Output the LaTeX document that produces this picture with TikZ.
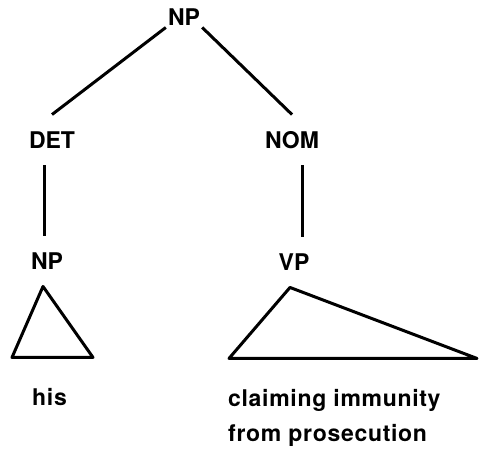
\documentclass[tikz,border=0pt]{standalone}
\usepackage{fontspec}
\setmainfont{TeX Gyre Heros}
\usepackage{tikz}
\usetikzlibrary{calc}
\tikzset{every node/.append style={align=left}}
\tikzset{
  cat/.style={font=\fontsize{23}{35}\selectfont\bfseries, inner xsep=2pt, inner ysep=17pt, text height=16.5pt, text depth=0pt},
  leaf/.style={font=\fontsize{23}{35}\selectfont\bfseries\addfontfeatures{LetterSpace=3}, inner sep=0pt, anchor=base west},
  branch/.style={line width=3pt, line join=round}
}

\begin{document}
\begin{tikzpicture}[x=1pt, y=1pt]
  \useasboundingbox (0,0) rectangle (481,450);
  \node[cat, inner ysep=2pt] (top) at (184,433) {NP};
  \node[cat] (det) at (52,310) {DET};
  \node[cat] (nom) at (292,310) {NOM};
  \node[cat] (np) at (47,189) {NP};
  \node[cat] (vp) at (294,188) {VP};
  \node[leaf] (his) at (32,45) {his};
  \node[leaf] (claim) at (228,9) {claiming immunity\\from prosecution};
  % feet of the unary branches and tips of the triangles
  \coordinate (detfoot) at ([xshift=-8pt]det.south);
  \coordinate (nomfoot) at ([xshift=10pt]nom.south);
  \coordinate (nptip) at ([xshift=-4pt]np.south);
  \coordinate (vptip) at ([xshift=-4pt]vp.south);
  \draw[branch] (top.south west) -- (det.north);
  \draw[branch] (top.south east) -- (nom.north);
  \draw[branch] (detfoot) -- (detfoot |- np.north);
  \draw[branch] (nomfoot) -- (nomfoot |- vp.north);
  \draw[branch] (nptip) -- ++(-31,-71) -- ++(81,0) -- cycle;
  \draw[branch] (vptip) -- ++(-61,-71) -- ++(248,0) -- cycle;
\end{tikzpicture}
\end{document}
